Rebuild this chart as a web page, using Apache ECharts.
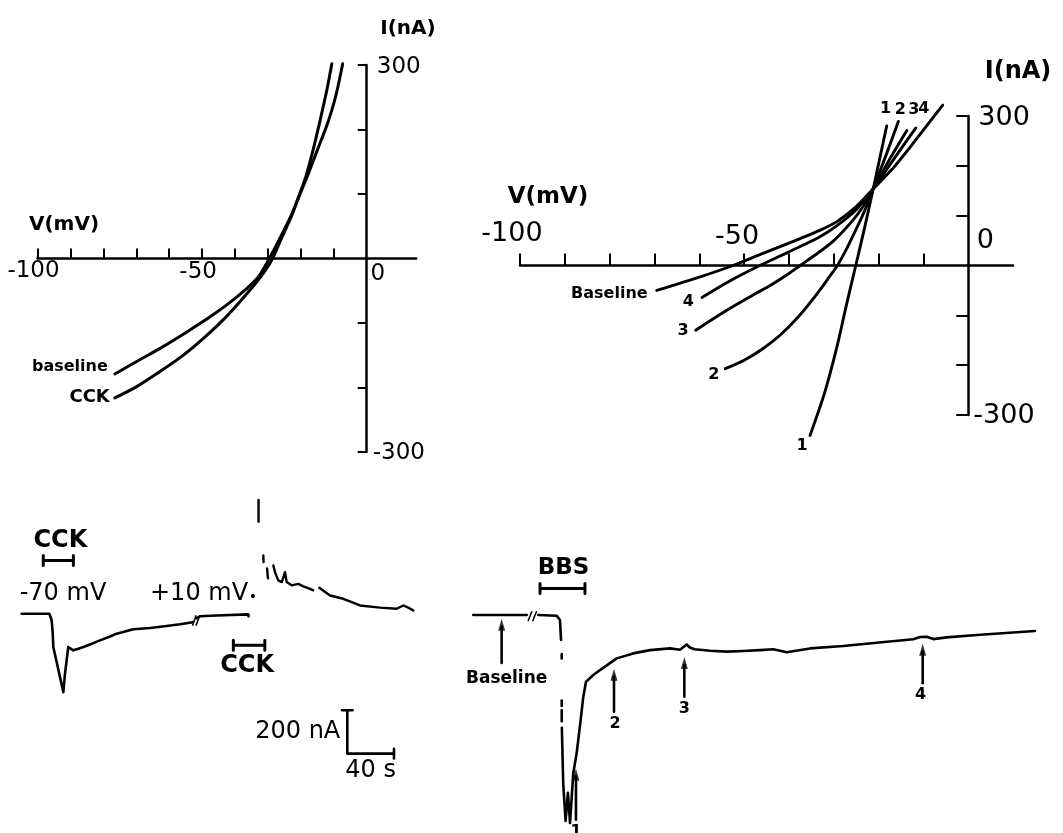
<!DOCTYPE html>
<html><head><meta charset="utf-8">
<script src="https://cdn.jsdelivr.net/npm/echarts@6.0.0/dist/echarts.min.js"></script>
<style>html,body{margin:0;padding:0;background:#fff}#c{width:1063px;height:833px}</style>
</head><body><div id="c"></div>
<script>
const F = 'DejaVu Sans';
const K = '#000';

// ---------- axis ticks / labels for the I–V panels ----------
const vTicks = [-100,-90,-80,-70,-60,-50,-40,-30,-20,-10];
const vTickLabels = [-100,-50,0];
const iTicks = [-300,-200,-100,100,200,300];
const iTickLabels = [300,-300];

// ---------- Panel A (top left): I–V, baseline vs CCK  [mV, nA] ----------
const ivA_baseline = [[-76.5,-179],[-70,-160],[-62,-137],[-55,-115],[-48,-92],[-42,-70],[-37,-49],[-33,-29],[-29.6,0],[-26,35],[-23,66],[-20.5,97],[-18,128],[-15,168],[-12,208],[-9.5,250],[-7.3,302]];
const ivA_cck      = [[-76.5,-216],[-70,-199],[-63,-176],[-56,-151],[-49,-121],[-43,-92],[-38,-64],[-34,-40],[-31,-20],[-28.6,0],[-26,30],[-23,64],[-20.5,98],[-18.5,127],[-16.4,166],[-13.9,220],[-12,264],[-10.6,302]];

// ---------- Panel B (top right): I–V, baseline and times 1–4  [mV, nA] ----------
const ivB_baseline = [[-69.5,-50],[-60.5,-25],[-52.5,0],[-46.5,22],[-42,38],[-37.5,54],[-33,71],[-29.3,88],[-25,118],[-21.2,154],[-16.7,196],[-13,237],[-9.3,280],[-5.7,322]];
const ivB_4 = [[-59.4,-64],[-53,-30],[-46.5,0],[-42,19],[-37.5,38],[-33,58],[-29.3,80],[-25,112],[-21.2,154],[-16.5,215],[-11.7,276]];
const ivB_3 = [[-60.8,-130],[-56,-102],[-52,-80],[-48,-59],[-44,-39],[-40,-16],[-37.5,0],[-34,22],[-30,50],[-26,88],[-23.5,118],[-21.2,154],[-17.5,214],[-13.7,271]];
const ivB_2 = [[-54.2,-207],[-50,-190],[-46,-168],[-42,-140],[-38,-104],[-34,-60],[-31,-23],[-29.2,0],[-27,36],[-25,73],[-23,112],[-21.2,154],[-18.4,220],[-15.6,289]];
const ivB_1 = [[-35.3,-341],[-32,-254],[-29.4,-167],[-27.2,-80],[-25.1,0],[-23.1,77],[-21.2,154],[-18.2,280]];

// ---------- Panel C (bottom left): current trace, CCK at -70 and +10 mV  [s, nA] ----------
const trC_m70 = [[18.6,0],[42.3,0],[44.3,-31],[45.2,-92],[45.7,-154],[54.3,-362],[55.7,-277],[58.5,-154],[62.8,-169],[67.1,-162],[71.4,-154],[77.1,-142],[85.7,-123],[94.3,-105],[100,-92],[114.3,-72],[128.6,-66],[142.9,-57],[154.3,-49],[165.2,-39]];
const trC_m70b = [[168.6,-20],[171.4,-12],[185.7,-8],[212.8,-3],[213,-12]];
const trC_break = [[165.2,-52],[168,-10],null,[168.2,-52],[171,-10]];
const trC_p10 = [[221.6,525],[221.6,425],null,[225.7,269],[225.9,238],null,[228.9,209],[229.7,163],null,
  [234.3,223],[235.7,192],[238.5,154],[241.5,146],[244.3,192],[245.7,146],[250,131],[255.7,138],[260,126],[265.7,115],[268.5,108],null,
  [273.7,120],[282.9,84],[294.3,69],[308.6,38],[325.7,28],[340,23],[345.7,38],[350,28],[354.3,15]];
const cckBar1 = [37.1,62.9], cckBar1Level = 246;
const cckBar2 = [200,227],  cckBar2Level = -146;
const scaleT = 40, scaleI = 200, scaleOrigin = [297.7,-646];

// ---------- Panel D (bottom right): current trace, BBS  [s, nA] ----------
const trD = [[11.4,0],[57.2,0],null,[67.1,0],[82.9,-3],[85.7,-23],[86.6,-115],null,[87.2,-180],[87.2,-200],null,
  [87.2,-395],[87.2,-420],null,[87.2,-440],[87.2,-490],null,
  [87.3,-520],[88.5,-780],[90.5,-950],[92.5,-820],[94.3,-960],[97.1,-730],[100,-637],[103.4,-485],[105.7,-377],[108,-308],
  [114.3,-277],[120,-254],[134.3,-200],[148.5,-177],[162.9,-162],[180,-154],[188.6,-160],[191,-150],[194.3,-136],[197,-150],
  [201,-158],[214.3,-165],[228.6,-169],[242.8,-166],[257.1,-162],[268.6,-158],[280,-172],[300,-154],[328.5,-143],[357.1,-128],
  [388.5,-112],[394.3,-101],[400,-100],[405.7,-111],[417.1,-103],[442.9,-92],[492.8,-74]];
const trD_break = [[58.5,-25],[61.5,15],null,[62.5,-25],[65.5,15]];
const bbsBar = [68.6,107.1], bbsBarLevel = 123;
const arrowNames = ['Baseline','1','2','3','4'];
const arrowT     = [35.7, 99.4, 132, 192.3, 396.6];
const arrowFrom  = [-221, -945, -446, -377, -315];
const arrowTo    = [-54, -746, -285, -231, -169];

// ---------- helpers ----------
function splitNull(d){const out=[];let cur=[];d.forEach(p=>{if(p===null){if(cur.length)out.push(cur);cur=[];}else cur.push(p);});if(cur.length)out.push(cur);return out;}
function lines(d, gi, w, smooth){
  return splitNull(d).map(s=>({type:'line',xAxisIndex:gi,yAxisIndex:gi,data:s,symbol:'none',smooth:smooth||false,clip:false,silent:true,
    lineStyle:{color:K,width:w,cap:'round',join:'round'}}));
}
function tag(pt, text, gi, pos, dist, off, size, weight){
  return {type:'scatter',xAxisIndex:gi,yAxisIndex:gi,data:[pt],symbol:'circle',symbolSize:0.1,clip:false,silent:true,
    itemStyle:{color:K,opacity:1},
    label:{show:true,position:pos,distance:dist,offset:off||[0,0],formatter:text,color:K,opacity:1,textBorderWidth:0,
      fontFamily:F,fontSize:size,fontWeight:weight||'bold'}};
}
function stim(t, lvl, h){
  return [[t[0],lvl+h],[t[0],lvl-h],[t[0],lvl],[t[1],lvl],[t[1],lvl+h],[t[1],lvl-h]];
}
function ivX(gi, max, pos, inside, tickLen){
  return {gridIndex:gi,type:'value',min:-100,max:max,position:pos,
    axisLine:{onZero:true,lineStyle:{color:K,width:2.5}},
    axisTick:{show:true,inside:inside,length:tickLen,customValues:vTicks,lineStyle:{color:K,width:2}},
    axisLabel:{show:false},splitLine:{show:false}};
}
function ivY(gi, tickLen){
  return {gridIndex:gi,type:'value',min:-300,max:300,position:'right',
    axisLine:{onZero:true,lineStyle:{color:K,width:2.5}},
    axisTick:{show:true,inside:true,length:tickLen,customValues:iTicks,lineStyle:{color:K,width:2}},
    axisLabel:{show:false},splitLine:{show:false}};
}

const series = [];
// Panel A
series.push(...lines(ivA_baseline,0,3,0.3), ...lines(ivA_cck,0,3,0.3));
series.push(tag(ivA_baseline[0],'baseline',0,'left',7,[0,-7],16));
series.push(tag(ivA_cck[0],'CCK',0,'left',5,[0,0],18));
const aXoff = {'-100':[-4,1],'-50':[-4,2],'0':[11,4]};
vTickLabels.forEach(v=>series.push(tag([v,0],String(v),0,'bottom',0,aXoff[String(v)],23,'normal')));
iTickLabels.forEach(v=>series.push(tag([0,v],String(v),0,'right',v>0?10:6,[0,v>0?2:1],23,'normal')));
// Panel B
[ivB_baseline,ivB_4,ivB_3,ivB_2,ivB_1].forEach(c=>series.push(...lines(c,1,2.9,0.3)));
series.push(tag(ivB_baseline[0],'Baseline',1,'left',9,[0,3],16));
series.push(tag(ivB_4[0],'4',1,'left',8,[0,4],16));
series.push(tag(ivB_3[0],'3',1,'left',7,[0,1],16));
series.push(tag(ivB_2[0],'2',1,'left',6,[0,6],16));
series.push(tag(ivB_1[0],'1',1,'bottom',2,[-8,0],16));
series.push(tag(ivB_1[ivB_1.length-1],'1',1,'top',9,[-1,0],16));
series.push(tag(ivB_2[ivB_2.length-1],'2',1,'top',4,[2,0],16));
series.push(tag(ivB_3[ivB_3.length-1],'3',1,'top',13,[7,0],16));
series.push(tag(ivB_4[ivB_4.length-1],'4',1,'top',11,[8,0],16));
const bXoff = {'-100':[-8,0],'-50':[-7,3],'0':[17,7]};
vTickLabels.forEach(v=>series.push(tag([v,0],String(v),1,'top',18,bXoff[String(v)],27,'normal')));
iTickLabels.forEach(v=>series.push(tag([0,v],String(v),1,'right',v>0?10:5,[0,v>0?2:1],27,'normal')));
// Panel C
series.push(...lines(trC_m70,2,2.6), ...lines(trC_m70b,2,2.6), ...lines(trC_break,2,1.6), ...lines(trC_p10,2,2.4));
series.push(...lines(stim(cckBar1,cckBar1Level,23),2,3), ...lines(stim(cckBar2,cckBar2Level,23),2,3));
series.push(tag([(cckBar1[0]+cckBar1[1])/2,cckBar1Level],'CCK',2,'top',8,[2,0],24));
series.push(tag([(cckBar2[0]+cckBar2[1])/2,cckBar2Level],'CCK',2,'bottom',8,[-2,0],24));
const sb = [[scaleOrigin[0]-4.5,scaleOrigin[1]+scaleI],[scaleOrigin[0]+4.5,scaleOrigin[1]+scaleI],null,
  [scaleOrigin[0],scaleOrigin[1]+scaleI],[scaleOrigin[0],scaleOrigin[1]],[scaleOrigin[0]+scaleT,scaleOrigin[1]],null,
  [scaleOrigin[0]+scaleT,scaleOrigin[1]+22],[scaleOrigin[0]+scaleT,scaleOrigin[1]-22]];
series.push(...lines(sb,2,2.6));
series.push(tag([scaleOrigin[0],scaleOrigin[1]+scaleI/2],'200 nA',2,'left',7,[0,0],24,'normal'));
series.push(tag([scaleOrigin[0]+scaleT/2,scaleOrigin[1]],'40 s',2,'bottom',5,[0,0],24,'normal'));
// Panel D
series.push(...lines(trD,3,2.6), ...lines(trD_break,3,1.6));
series.push(...lines(stim(bbsBar,bbsBarLevel,23),3,3));
series.push(tag([(bbsBar[0]+bbsBar[1])/2,bbsBarLevel],'BBS',3,'top',9,[1,0],23));
const arrowLabelOff = {'Baseline':[5,0],'1':[0,0],'2':[1,0],'3':[0,0],'4':[-2,0]};
const arrowLabelSize = {'Baseline':17,'1':16,'2':16,'3':16,'4':16};
arrowNames.forEach((n,k)=>{
  series.push(...lines([[arrowT[k],arrowFrom[k]],[arrowT[k],arrowTo[k]]],3,2.6));
  series.push({type:'scatter',xAxisIndex:3,yAxisIndex:3,data:[[arrowT[k],arrowTo[k]]],symbol:'triangle',symbolSize:[7,12],
    symbolOffset:[0,-2],clip:false,silent:true,itemStyle:{color:K}});
  series.push(tag([arrowT[k],arrowFrom[k]],n,3,'bottom',n==='Baseline'?7:4,arrowLabelOff[n],arrowLabelSize[n]));
});

const option = {
  animation:false,
  backgroundColor:'#fff',
  grid:[
    {left:37.5,top:65,width:378.6,height:387,containLabel:false,outerBoundsMode:'none'},
    {left:520,top:116,width:493.1,height:299,containLabel:false,outerBoundsMode:'none'},
    {left:0,top:500,width:420,height:300,containLabel:false,outerBoundsMode:'none'},
    {left:460,top:500,width:600,height:333,containLabel:false,outerBoundsMode:'none'}
  ],
  xAxis:[
    ivX(0,15,'bottom',true,10),
    ivX(1,10,'top',false,12),
    {gridIndex:2,type:'value',min:0,max:360,show:false},
    {gridIndex:3,type:'value',min:0,max:514.3,show:false}
  ],
  yAxis:[
    ivY(0,9),
    ivY(1,12),
    {gridIndex:2,type:'value',min:-860,max:525,show:false},
    {gridIndex:3,type:'value',min:-1006,max:531,show:false}
  ],
  graphic:[
    {type:'text',x:64,y:225,style:{text:'V(mV)',font:'bold 20px "DejaVu Sans"',fill:K,align:'center',verticalAlign:'middle'}},
    {type:'text',x:408,y:29,style:{text:'I(nA)',font:'bold 20px "DejaVu Sans"',fill:K,align:'center',verticalAlign:'middle'}},
    {type:'text',x:548,y:197,style:{text:'V(mV)',font:'bold 23px "DejaVu Sans"',fill:K,align:'center',verticalAlign:'middle'}},
    {type:'text',x:1018,y:72,style:{text:'I(nA)',font:'bold 24px "DejaVu Sans"',fill:K,align:'center',verticalAlign:'middle'}},
    {type:'text',x:63,y:594,style:{text:'-70 mV',font:'24px "DejaVu Sans"',fill:K,align:'center',verticalAlign:'middle'}},
    {type:'text',x:150,y:594,style:{text:'+10 mV',font:'24px "DejaVu Sans"',fill:K,align:'left',verticalAlign:'middle'}},
    {type:'text',x:253,y:597,style:{text:'•',font:'14px "DejaVu Sans"',fill:K,align:'center',verticalAlign:'middle'}}
  ],
  series:series
};
const chart = echarts.init(document.getElementById('c'),null,{renderer:'canvas'});
chart.setOption(option);
</script></body></html>
